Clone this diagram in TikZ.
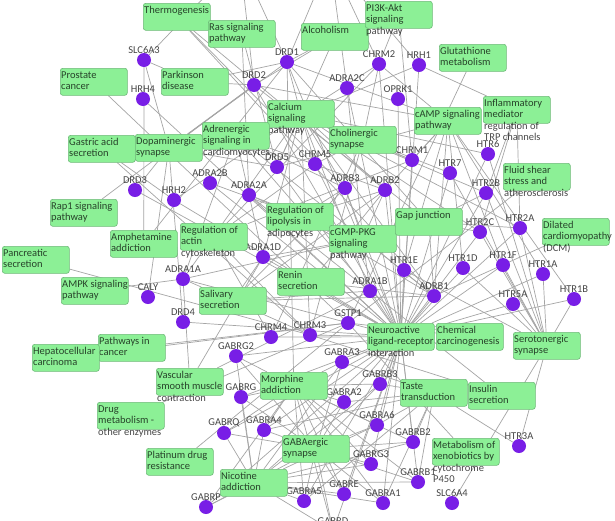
\documentclass[tikz,border=0pt]{standalone}
\usepackage{fontspec}
\setmainfont{Carlito}
\definecolor{genec}{RGB}{120,30,230}
\definecolor{pfill}{RGB}{140,240,150}
\definecolor{pbord}{RGB}{110,185,120}
\definecolor{edgec}{RGB}{165,165,165}
\pgfdeclarelayer{bg}
\pgfsetlayers{bg,main}
\tikzset{
  gene/.style={circle, fill=genec, minimum size=14pt, inner sep=0pt, label={[glab]above:#1}},
  glab/.style={font=\fontsize{10.5}{12}\selectfont, text=black!72, inner sep=0pt},
  pbox/.style={draw=pbord, fill=pfill, rounded corners=2.5pt, minimum width=67pt, minimum height=27pt, inner sep=0pt, anchor=north west, line width=0.6pt},
  ptxt/.style={anchor=north west, inner sep=0pt, align=left, font=\fontsize{10.5}{11.5}\selectfont, text=black, text opacity=0.72},
  edge/.style={draw=edgec, line width=0.7pt},
}
\newcommand\pw[3]{\node[pbox] (#1) at (#2) {};
  \node[ptxt, xshift=1pt, yshift=-2pt] (#1t) at (#1.north west) {\strut #3};}
\begin{document}
\begin{tikzpicture}[x=1pt, y=-1pt, label distance=-1pt]
\useasboundingbox (0,0) rectangle (615,520);
% genes
\node[gene=SLC6A3] (SLC6A3) at (144,60) {};
\node[gene=HRH4] (HRH4) at (143,99) {};
\node[gene=DRD1] (DRD1) at (287,62) {};
\node[gene=DRD2] (DRD2) at (254,85) {};
\node[gene=CHRM2] (CHRM2) at (379,64) {};
\node[gene=HRH1] (HRH1) at (419,65) {};
\node[gene=ADRA2C] (ADRA2C) at (347,88) {};
\node[gene=OPRK1] (OPRK1) at (398,99) {};
\node[gene=DRD5] (DRD5) at (277,167) {};
\node[gene=CHRM5] (CHRM5) at (315,164) {};
\node[gene=CHRM1] (CHRM1) at (412,160) {};
\node[gene=HTR7] (HTR7) at (450,173) {};
\node[gene=HTR6] (HTR6) at (488,154) {};
\node[gene=DRD3] (DRD3) at (135,190) {};
\node[gene=HRH2] (HRH2) at (174,200) {};
\node[gene=ADRA2B] (ADRA2B) at (210,183) {};
\node[gene=ADRA2A] (ADRA2A) at (249,195) {};
\node[gene=ADRB3] (ADRB3) at (345,188) {};
\node[gene=ADRB2] (ADRB2) at (385,190) {};
\node[gene=HTR2B] (HTR2B) at (486,193) {};
\node[gene=HTR2C] (HTR2C) at (480,232) {};
\node[gene=HTR2A] (HTR2A) at (520,228) {};
\node[gene=ADRA1D] (ADRA1D) at (263,257) {};
\node[gene=ADRA1A] (ADRA1A) at (183,279) {};
\node[gene=CALY] (CALY) at (148,297) {};
\node[gene=DRD4] (DRD4) at (183,322) {};
\node[gene=HTR1E] (HTR1E) at (404,270) {};
\node[gene=HTR1D] (HTR1D) at (463,268) {};
\node[gene=HTR1F] (HTR1F) at (503,265) {};
\node[gene=HTR1A] (HTR1A) at (543,274) {};
\node[gene=HTR1B] (HTR1B) at (574,299) {};
\node[gene=HTR5A] (HTR5A) at (513,304) {};
\node[gene=ADRA1B] (ADRA1B) at (370,291) {};
\node[gene=ADRB1] (ADRB1) at (434,296) {};
\node[gene=GSTP1] (GSTP1) at (348,323) {};
\node[gene=CHRM4] (CHRM4) at (271,337) {};
\node[gene=CHRM3] (CHRM3) at (310,335) {};
\node[gene=GABRG2] (GABRG2) at (236,356) {};
\node[gene=GABRA3] (GABRA3) at (342,362) {};
\node[gene=GABRG] (GABRG1) at (241,397) {};
\node[gene=GABRB3] (GABRB3) at (380,384) {};
\node[gene=GABRA2] (GABRA2) at (344,402) {};
\node[gene=GABRQ] (GABRQ) at (224,433) {};
\node[gene=GABRA4] (GABRA4) at (264,430) {};
\node[gene=GABRA6] (GABRA6) at (377,425) {};
\node[gene=GABRB2] (GABRB2) at (413,442) {};
\node[gene=HTR3A] (HTR3A) at (519,446) {};
\node[gene=GABRG3] (GABRG3) at (371,464) {};
\node[gene=GABRB1] (GABRB1) at (418,482) {};
\node[gene=GABRP] (GABRP) at (206,507) {};
\node[gene=GABRA5] (GABRA5) at (304,501) {};
\node[gene=GABRE] (GABRE) at (344,494) {};
\node[gene=GABRA1] (GABRA1) at (383,503) {};
\node[gene=SLC6A4] (SLC6A4) at (452,503) {};
\node[gene=GABRD] (GABRD) at (333,531) {};
\coordinate (topA) at (240,-40);
\coordinate (topB) at (330,-40);
% pathways
\pw{thermo}{143,3}{Thermogenesis}
\pw{ras}{208,20}{Ras signaling\\pathway}
\pw{alcohol}{301,23}{Alcoholism}
\pw{pik}{365,1}{PI3K-Akt\\signaling\\pathway}
\pw{gluta}{439,44}{Glutathione\\metabolism}
\pw{inflam}{483,96}{Inflammatory\\mediator\\regulation of\\TRP channels}
\pw{camp}{414,107}{cAMP signaling\\pathway}
\pw{cholin}{329,126}{Cholinergic\\synapse}
\pw{calcium}{267,100}{Calcium\\signaling\\pathway}
\pw{adren}{202,122}{Adrenergic\\signaling in\\cardiomyocytes}
\pw{prost}{60,68}{Prostate\\cancer}
\pw{parkin}{161,68}{Parkinson\\disease}
\pw{gastric}{68,135}{Gastric acid\\secretion}
\pw{dopa}{135,134}{Dopaminergic\\synapse}
\pw{rapone}{50,199}{Rap1 signaling\\pathway}
\pw{amph}{110,230}{Amphetamine\\addiction}
\pw{actin}{180,223}{Regulation of\\actin\\cytoskeleton}
\pw{lipo}{266,203}{Regulation of\\lipolysis in\\adipocytes}
\pw{pancr}{2,246}{Pancreatic\\secretion}
\pw{ampk}{61,277}{AMPK signaling\\pathway}
\pw{saliv}{199,287}{Salivary\\secretion}
\pw{renin}{277,268}{Renin\\secretion}
\pw{cgmp}{329,225}{cGMP-PKG\\signaling\\pathway}
\pw{gap}{395,208}{Gap junction}
\pw{fluid}{503,163}{Fluid shear\\stress and\\atherosclerosis}
\pw{dcm}{542,218}{Dilated\\cardiomyopathy\\(DCM)}
\pw{neuro}{367,323}{Neuroactive\\ligand-receptor\\interaction}
\pw{chemc}{436,323}{Chemical\\carcinogenesis}
\pw{sero}{513,332}{Serotonergic\\synapse}
\pw{pcancer}{98,334}{Pathways in\\cancer}
\pw{hepato}{32,344}{Hepatocellular\\carcinoma}
\pw{vasc}{156,368}{Vascular\\smooth muscle\\contraction}
\pw{morph}{260,372}{Morphine\\addiction}
\pw{drugm}{97,402}{Drug\\metabolism -\\other enzymes}
\pw{gaba}{282,435}{GABAergic\\synapse}
\pw{plat}{146,448}{Platinum drug\\resistance}
\pw{nicot}{220,469}{Nicotine\\addiction}
\pw{taste}{400,379}{Taste\\transduction}
\pw{insul}{468,382}{Insulin\\secretion}
\pw{xeno}{432,438}{Metabolism of\\xenobiotics by\\cytochrome\\P450}
% edges
\begin{pgfonlayer}{bg}
\fill[white] (0,0) rectangle (615,520);
\foreach \g in {DRD1,DRD2,DRD3,DRD4,DRD5,HTR1A,HTR1B,HTR1D,HTR1E,HTR1F,HTR2A,HTR2B,HTR2C,HTR5A,HTR6,HTR7,ADRA1A,ADRA1B,ADRA1D,ADRA2A,ADRA2B,ADRA2C,ADRB1,ADRB2,ADRB3,CHRM1,CHRM2,CHRM3,CHRM4,CHRM5,HRH1,HRH2,HRH4,OPRK1,GABRA1,GABRA2,GABRA3,GABRA4,GABRA5,GABRA6,GABRB1,GABRB2,GABRB3,GABRG1,GABRG2,GABRG3,GABRE,GABRP,GABRQ,GABRD}
  \draw[edge] (\g) -- (neuro);
\foreach \g in {DRD1,DRD5,HTR2A,HTR2B,HTR2C,HTR6,HTR7,ADRA1A,ADRA1B,ADRA1D,ADRB1,ADRB2,ADRB3,CHRM1,CHRM2,CHRM3,CHRM5,HRH1,HRH2}
  \draw[edge] (\g) -- (calcium);
\foreach \g in {DRD1,DRD2,DRD5,HTR1A,HTR1B,HTR1D,HTR1E,HTR1F,ADRB1,ADRB2,CHRM1,CHRM2}
  \draw[edge] (\g) -- (camp);
\foreach \g in {DRD1,DRD2,HTR2A,HTR2B,HTR2C,ADRB1}
  \draw[edge] (\g) -- (gap);
\foreach \g in {ADRA1A,ADRA1B,ADRA1D,ADRA2A,ADRA2B,ADRA2C,ADRB1,ADRB2,ADRB3}
  \draw[edge] (\g) -- (cgmp);
\foreach \g in {ADRA1A,ADRA1B,ADRA1D,ADRB1,ADRB2,ADRB3}
  \draw[edge] (\g) -- (adren);
\foreach \g in {ADRB1,ADRB2,ADRB3,ADRA2A}
  \draw[edge] (\g) -- (lipo);
\foreach \g in {ADRA1A,ADRA1B,ADRA1D,ADRB1,ADRB2,ADRB3,CHRM3}
  \draw[edge] (\g) -- (saliv);
\foreach \g in {ADRB1,ADRB2}
  \draw[edge] (\g) -- (renin);
\foreach \g in {ADRA1A,ADRA1B,ADRA1D}
  \draw[edge] (\g) -- (vasc);
\draw[edge] (ADRB1) -- (dcm);
\foreach \g in {CHRM1,CHRM2,CHRM3,CHRM4,CHRM5}
  \draw[edge] (\g) -- (cholin);
\foreach \g in {CHRM1,CHRM2,CHRM3,CHRM4,CHRM5}
  \draw[edge] (\g) -- (actin);
\foreach \g in {CHRM1,CHRM2}
  \draw[edge] (\g) -- (pik);
\foreach \g in {HRH2,CHRM3}
  \draw[edge] (\g) -- (gastric);
\draw[edge] (CHRM3) -- (pancr);
\foreach \g in {CHRM3,ADRA2A}
  \draw[edge] (\g) -- (insul);
\draw[edge] (ADRA1A) -- (ampk);
\draw[edge] (DRD2) -- (rapone);
\foreach \g in {DRD1,DRD2,SLC6A3}
  \draw[edge] (\g) -- (parkin);
\foreach \g in {DRD1,SLC6A3}
  \draw[edge] (\g) -- (amph);
\foreach \g in {DRD1,DRD2,DRD5}
  \draw[edge] (\g) -- (alcohol);
\foreach \g in {DRD1,DRD2,DRD3,DRD4,DRD5,SLC6A3,CALY}
  \draw[edge] (\g) -- (dopa);
\foreach \g in {ADRB1,ADRB2,ADRB3}
  \draw[edge] (\g) -- (thermo);
\foreach \g in {DRD5,ADRA2A}
  \draw[edge] (\g) -- (ras);
\foreach \p in {prost,hepato,pcancer,chemc,drugm,plat,xeno,gluta,fluid}
  \draw[edge] (GSTP1) -- (\p);
\foreach \g in {HTR2A,HTR2B,HTR2C,HRH1}
  \draw[edge] (\g) -- (inflam);
\foreach \g in {HTR1A,HTR1B,HTR1D,HTR1E,HTR1F,HTR2A,HTR2B,HTR2C,HTR3A,HTR5A,HTR6,HTR7,SLC6A4}
  \draw[edge] (\g) -- (sero);
\foreach \g in {HTR3A,GABRA1,GABRA2,GABRA3,GABRA4,GABRA5,GABRA6,GABRB1,GABRB2,GABRB3}
  \draw[edge] (\g) -- (taste);
\foreach \p in {morph,nicot,gaba}
  \foreach \g in {GABRA1,GABRA2,GABRA3,GABRA4,GABRA5,GABRA6,GABRB1,GABRB2,GABRB3,GABRG1,GABRG2,GABRG3,GABRE,GABRP,GABRQ,GABRD}
    \draw[edge] (\g) -- (\p);
\draw[edge] (DRD1) -- (morph);
\foreach \g in {DRD1,DRD2,SLC6A3}
  \draw[edge] (\g) -- (topA);
\foreach \g in {DRD1,CHRM2,ADRA2C,HRH1}
  \draw[edge] (\g) -- (topB);
\end{pgfonlayer}
\end{tikzpicture}
\end{document}
